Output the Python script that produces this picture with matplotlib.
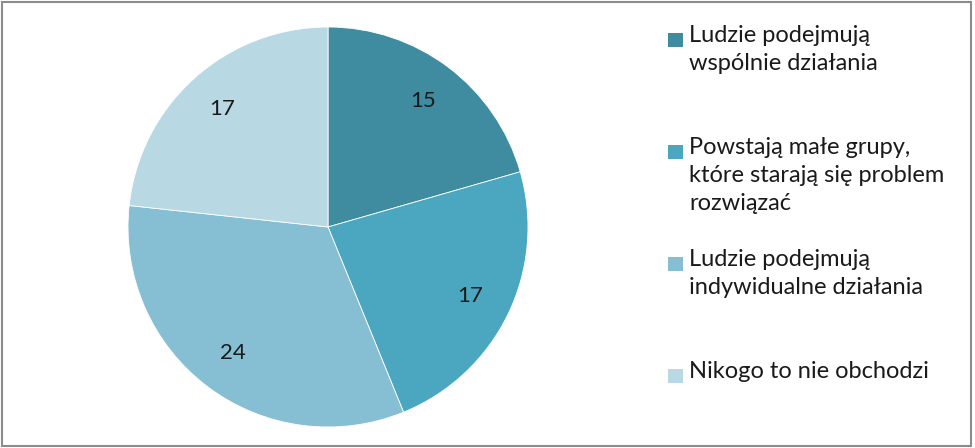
import matplotlib.pyplot as plt
from matplotlib.patches import Rectangle

values = [15, 17, 24, 17]
labels = ["Ludzie podejmują\nwspólnie działania",
          "Powstają małe grupy,\nktóre starają się problem\nrozwiązać",
          "Ludzie podejmują\nindywidualne działania",
          "Nikogo to nie obchodzi"]
colors = ["#3F8CA0", "#4BA7C0", "#86BED3", "#B8D8E3"]

plt.rcParams['font.family'] = ['Lato', 'DejaVu Sans']

fig = plt.figure(figsize=(9.75, 4.48), dpi=100)
ax = fig.add_axes([128/975, 21/448, 400/975, 400/448])

wedges, texts, autotexts = ax.pie(values, colors=colors, startangle=90, counterclock=False,
                                  autopct=lambda p: "%d" % round(p * sum(values) / 100),
                                  pctdistance=0.79, wedgeprops=dict(linewidth=0.6, edgecolor="white"),
                                  textprops=dict(fontsize=16, color="#1A1A1A"))
ax.set_xlim(-1, 1)
ax.set_ylim(-1, 1)
ax.set_aspect("equal")

# legend drawn by hand, Excel style: fixed step, square next to first line
step = 112
for i, (lab, col) in enumerate(zip(labels, colors)):
    ytop = 25 + i * step
    fig.patches.append(Rectangle((668/975, 1 - (ytop + 22)/448), 15/975, 14/448,
                                 transform=fig.transFigure, facecolor=col, edgecolor="none"))
    fig.text(689/975, 1 - ytop/448, lab, fontsize=17, color="#1A1A1A",
             va="top", ha="left", linespacing=1.42)

# outer frame
fig.patches.append(Rectangle((2/975, 2/448), 969/975, 444/448, transform=fig.transFigure,
                             facecolor="none", edgecolor="#8C8C8C", linewidth=1.5))

fig.savefig("out.png", dpi=100)
